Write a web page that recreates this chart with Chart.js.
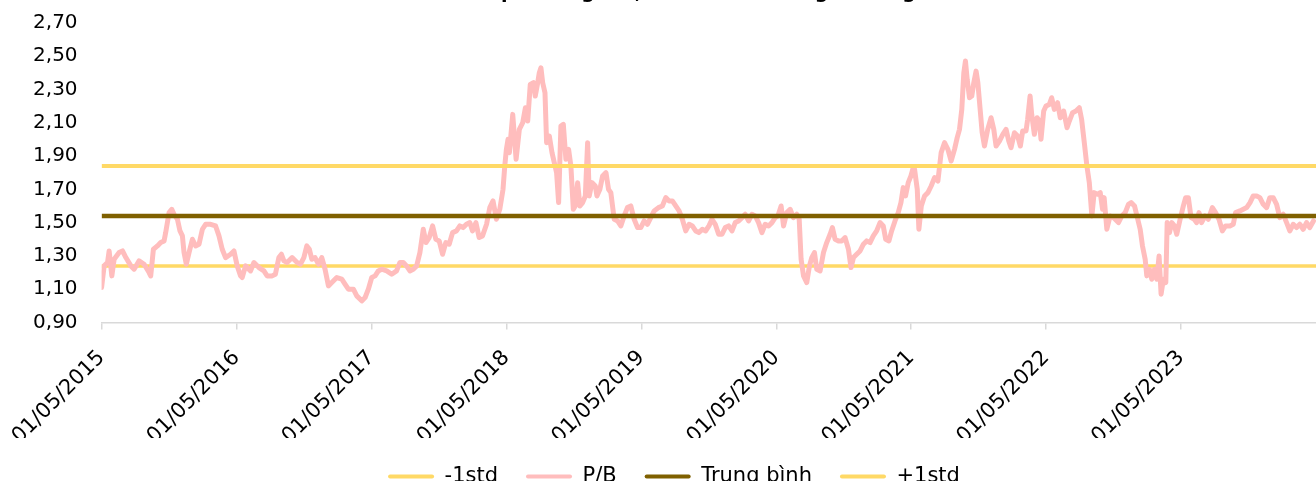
<!DOCTYPE html>
<html lang="vi">

<head>
    <meta charset="UTF-8">
    <title>P/B</title>
    <style>
        html, body { margin: 0; padding: 0; background: #fff; overflow: hidden; }
        /* khung cao hơn cửa sổ: tiêu đề và chú giải bị cắt như ảnh gốc */
        #khung { position: relative; top: -18px; width: 1316px; height: 515px; }
    </style>
</head>

<body>
    <div id="khung"><canvas id="bieuDo"></canvas></div>

    <script src="https://cdn.jsdelivr.net/npm/chart.js"></script>

    <script>
        // du lieu: thoi gian tinh bang nam ke tu 01/05/2015
        const thoiGian = [
            0.000, 0.019, 0.044, 0.056, 0.076, 0.093, 0.130, 0.155, 0.180, 0.217, 0.241, 0.278, 0.315, 0.352, 0.364, 0.384, 0.414, 0.438, 0.463, 0.475, 0.500, 0.520, 0.537, 0.562, 0.581, 0.599, 0.611, 0.628, 0.648, 0.673, 0.697, 0.722, 0.747, 0.771, 0.808, 0.845, 0.870, 0.894, 0.919, 0.956, 0.981, 1.005, 1.030, 1.042, 1.067, 1.104, 1.129, 1.166, 1.203, 1.227, 1.264, 1.288, 1.314, 1.333, 1.351, 1.375, 1.412, 1.449, 1.474, 1.499,
            1.521, 1.540, 1.558, 1.582, 1.607, 1.632, 1.656, 1.681, 1.706, 1.743, 1.780, 1.804, 1.829, 1.866, 1.891, 1.928, 1.953, 1.977, 2.002, 2.027, 2.051, 2.076, 2.113, 2.150, 2.186, 2.211, 2.236, 2.260, 2.285, 2.310, 2.335, 2.359, 2.384, 2.404, 2.428, 2.453, 2.477, 2.502, 2.527, 2.551, 2.576, 2.601, 2.630, 2.655, 2.680, 2.704, 2.729, 2.749, 2.774, 2.798, 2.823, 2.853, 2.877, 2.901, 2.926, 2.951, 2.975, 2.988, 3.000, 3.012,
            3.022, 3.047, 3.072, 3.096, 3.121, 3.141, 3.158, 3.177, 3.200, 3.214, 3.232, 3.244, 3.256, 3.269, 3.286, 3.298, 3.318, 3.338, 3.355, 3.372, 3.387, 3.404, 3.422, 3.441, 3.461, 3.478, 3.496, 3.510, 3.528, 3.545, 3.565, 3.585, 3.602, 3.614, 3.634, 3.659, 3.671, 3.693, 3.713, 3.738, 3.757, 3.774, 3.799, 3.824, 3.848, 3.873, 3.897, 3.922, 3.947, 3.972, 3.996, 4.021, 4.045, 4.070, 4.095, 4.127, 4.156, 4.181, 4.206, 4.230, 4.255, 4.280, 4.304, 4.329, 4.354, 4.378, 4.403, 4.427, 4.452, 4.477, 4.501,
            4.524, 4.548, 4.573, 4.598, 4.622, 4.647, 4.672, 4.696, 4.721, 4.746, 4.770, 4.795, 4.820, 4.844, 4.869, 4.894, 4.918, 4.943, 4.968, 4.992, 5.012, 5.036, 5.054, 5.078, 5.103, 5.127, 5.152, 5.170, 5.184, 5.202, 5.226, 5.246, 5.263, 5.283, 5.300, 5.325, 5.350, 5.374, 5.399, 5.416, 5.436, 5.461, 5.485, 5.510, 5.535, 5.554, 5.572, 5.596, 5.621, 5.646, 5.670, 5.695, 5.719, 5.744, 5.769, 5.793, 5.811, 5.835, 5.855, 5.880, 5.904, 5.924, 5.941, 5.958, 5.978, 5.998, 6.015,
            6.025, 6.045, 6.057, 6.075, 6.099, 6.124, 6.148, 6.173, 6.198, 6.222, 6.247, 6.272, 6.296, 6.321, 6.341, 6.358, 6.375, 6.390, 6.402, 6.415, 6.432, 6.449, 6.464, 6.481, 6.494, 6.511, 6.526, 6.543, 6.567, 6.592, 6.612, 6.629, 6.654, 6.679, 6.703, 6.723, 6.740, 6.765, 6.789, 6.809, 6.826, 6.851, 6.863, 6.881, 6.893, 6.913, 6.933, 6.950, 6.962, 6.982, 6.999, 7.024, 7.041, 7.061, 7.085, 7.105, 7.130, 7.155, 7.172, 7.196, 7.221, 7.246, 7.263, 7.283, 7.302, 7.320, 7.339, 7.356, 7.381, 7.401, 7.418, 7.430, 7.450, 7.474, 7.499,
            7.512, 7.536, 7.561, 7.586, 7.610, 7.630, 7.655, 7.679, 7.697, 7.714, 7.734, 7.746, 7.766, 7.783, 7.803, 7.820, 7.837, 7.852, 7.869, 7.887, 7.897, 7.914, 7.931, 7.951, 7.968, 7.993, 8.017, 8.034, 8.054, 8.074, 8.098, 8.115, 8.133, 8.152, 8.178, 8.202, 8.232, 8.256, 8.281, 8.306, 8.330, 8.362, 8.387, 8.404, 8.436, 8.461, 8.486, 8.511, 8.535, 8.560, 8.584, 8.609, 8.634, 8.658, 8.683, 8.708, 8.732, 8.757, 8.782, 8.806, 8.831, 8.856, 8.880, 8.905, 8.930, 8.954, 8.981
        ]
        const pb = [
            1.11, 1.24, 1.26, 1.33, 1.18, 1.28, 1.32, 1.33, 1.29, 1.24, 1.22, 1.27, 1.25, 1.20, 1.18, 1.34, 1.36, 1.38, 1.39, 1.44, 1.56, 1.58, 1.55, 1.52, 1.45, 1.42, 1.32, 1.25, 1.32, 1.40, 1.36, 1.37, 1.46, 1.49, 1.49, 1.48, 1.42, 1.34, 1.29, 1.31, 1.33, 1.24, 1.18, 1.17, 1.24, 1.21, 1.26, 1.23, 1.21, 1.18, 1.18, 1.19, 1.29, 1.31, 1.27, 1.26, 1.29, 1.26, 1.25, 1.29,
            1.36, 1.34, 1.28, 1.29, 1.25, 1.29, 1.22, 1.12, 1.14, 1.17, 1.16, 1.13, 1.10, 1.10, 1.06, 1.03, 1.05, 1.10, 1.17, 1.18, 1.21, 1.22, 1.21, 1.19, 1.21, 1.26, 1.26, 1.24, 1.21, 1.22, 1.24, 1.32, 1.46, 1.38, 1.41, 1.48, 1.40, 1.39, 1.31, 1.38, 1.37, 1.44, 1.45, 1.48, 1.47, 1.49, 1.50, 1.45, 1.50, 1.41, 1.42, 1.49, 1.59, 1.63, 1.52, 1.58, 1.70, 1.84, 1.94, 2.00,
            1.92, 2.15, 1.88, 2.06, 2.10, 2.19, 2.11, 2.33, 2.34, 2.26, 2.34, 2.40, 2.43, 2.34, 2.28, 1.98, 2.02, 1.92, 1.86, 1.80, 1.62, 2.08, 2.09, 1.88, 1.94, 1.84, 1.58, 1.60, 1.74, 1.60, 1.62, 1.66, 1.98, 1.66, 1.74, 1.72, 1.66, 1.70, 1.78, 1.80, 1.70, 1.68, 1.52, 1.51, 1.48, 1.54, 1.59, 1.60, 1.52, 1.47, 1.47, 1.51, 1.49, 1.53, 1.57, 1.59, 1.60, 1.65, 1.63, 1.63, 1.60, 1.57, 1.52, 1.45, 1.49, 1.48, 1.45, 1.44, 1.46, 1.45, 1.48,
            1.52, 1.49, 1.43, 1.43, 1.47, 1.48, 1.45, 1.50, 1.51, 1.53, 1.55, 1.51, 1.55, 1.54, 1.50, 1.44, 1.49, 1.48, 1.50, 1.53, 1.54, 1.60, 1.48, 1.56, 1.58, 1.53, 1.55, 1.52, 1.28, 1.18, 1.14, 1.24, 1.29, 1.32, 1.22, 1.21, 1.32, 1.38, 1.43, 1.47, 1.40, 1.39, 1.39, 1.41, 1.34, 1.23, 1.29, 1.31, 1.33, 1.37, 1.39, 1.38, 1.42, 1.45, 1.50, 1.48, 1.40, 1.39, 1.45, 1.51, 1.56, 1.62, 1.71, 1.66, 1.74, 1.78, 1.83,
            1.82, 1.70, 1.46, 1.60, 1.66, 1.68, 1.72, 1.77, 1.75, 1.92, 1.98, 1.94, 1.87, 1.94, 2.01, 2.06, 2.18, 2.40, 2.47, 2.36, 2.25, 2.26, 2.34, 2.41, 2.34, 2.18, 2.04, 1.96, 2.06, 2.13, 2.06, 1.96, 1.99, 2.03, 2.06, 1.99, 1.95, 2.04, 2.02, 1.96, 2.05, 2.05, 2.12, 2.26, 2.15, 2.03, 2.13, 2.11, 2.00, 2.17, 2.20, 2.21, 2.25, 2.18, 2.22, 2.13, 2.17, 2.07, 2.11, 2.16, 2.17, 2.19, 2.12, 1.98, 1.84, 1.74, 1.54, 1.68, 1.67, 1.68, 1.58, 1.65, 1.46, 1.54, 1.53,
            1.52, 1.50, 1.54, 1.56, 1.61, 1.62, 1.60, 1.52, 1.46, 1.36, 1.28, 1.18, 1.22, 1.16, 1.22, 1.16, 1.30, 1.07, 1.16, 1.14, 1.50, 1.44, 1.50, 1.48, 1.43, 1.52, 1.60, 1.65, 1.65, 1.53, 1.52, 1.50, 1.56, 1.50, 1.54, 1.52, 1.59, 1.56, 1.52, 1.45, 1.48, 1.48, 1.49, 1.56, 1.57, 1.58, 1.59, 1.62, 1.66, 1.66, 1.65, 1.61, 1.59, 1.65, 1.65, 1.61, 1.53, 1.55, 1.50, 1.45, 1.49, 1.47, 1.49, 1.46, 1.50, 1.47, 1.51
        ]
        const trungBinh = 1.54
        const duoi1std = 1.24
        const tren1std = 1.84
        const nhanTrucX = ['01/05/2015', '01/05/2016', '01/05/2017', '01/05/2018', '01/05/2019',
            '01/05/2020', '01/05/2021', '01/05/2022', '01/05/2023']
        const mocTrucY = [0.9, 1.1, 1.3, 1.5, 1.7, 1.9, 2.1, 2.3, 2.5, 2.7]
        const tieuDe = 'Diễn biến P/B cổ phiếu ngành, so với mức trung bình ngành 9 năm'

        const diemPB = thoiGian.map((t, i) => ({ x: t, y: pb[i] }))
        const duongNgang = v => [{ x: 0, y: v }, { x: 9, y: v }]

        Chart.defaults.font.family = "'DejaVu Sans', sans-serif"
        Chart.defaults.color = '#000'

        const ctx = document.getElementById('bieuDo')
        new Chart(ctx, {
            type: 'line',
            data: {
                datasets: [
                    { label: '-1std', data: duongNgang(duoi1std), borderColor: '#FFD966', backgroundColor: '#FFD966', borderWidth: 3.5, order: 4 },
                    { label: 'P/B', data: diemPB, borderColor: '#FFBDBD', backgroundColor: '#FFBDBD', borderWidth: 5, borderJoinStyle: 'round', borderCapStyle: 'round', order: 3 },
                    { label: 'Trung bình', data: duongNgang(trungBinh), borderColor: '#7F6000', backgroundColor: '#7F6000', borderWidth: 4.5, order: 2 },
                    { label: '+1std', data: duongNgang(tren1std), borderColor: '#FFD966', backgroundColor: '#FFD966', borderWidth: 4, order: 1 }
                ]
            },
            options: {
                responsive: true,
                maintainAspectRatio: false,
                animation: false,
                devicePixelRatio: 1,
                // le trai de day chu giai sang phai mot chut
                layout: { padding: { left: 32, right: 0, top: 0, bottom: 0 } },
                elements: { point: { radius: 0 }, line: { tension: 0 } },
                plugins: {
                    title: {
                        display: true,
                        text: tieuDe,
                        font: { size: 19, weight: 'bold' },
                        color: '#000',
                        padding: { top: 0, bottom: 18 }
                    },
                    legend: {
                        position: 'bottom',
                        labels: {
                            boxWidth: 46,
                            boxHeight: 4,
                            padding: 28,
                            font: { size: 21 },
                            color: '#000',
                            sort: (a, b) => a.datasetIndex - b.datasetIndex,
                            generateLabels: chart => Chart.defaults.plugins.legend.labels.generateLabels(chart)
                                .map(m => ({ ...m, lineWidth: 0, borderRadius: 2 }))
                        }
                    },
                    tooltip: { enabled: false }
                },
                scales: {
                    x: {
                        type: 'linear',
                        min: 0,
                        max: 9,
                        afterBuildTicks: s => { s.ticks = nhanTrucX.map((n, i) => ({ value: i })) },
                        afterFit: s => { s.height = 115.5 },
                        ticks: {
                            autoSkip: false,
                            minRotation: 45,
                            maxRotation: 45,
                            padding: 16,
                            font: { size: 21 },
                            color: '#000',
                            callback: v => nhanTrucX[v] ?? ''
                        },
                        grid: { drawOnChartArea: false, drawTicks: true, tickLength: 7, color: '#D9D9D9', lineWidth: 1.5 },
                        border: { color: '#D9D9D9', width: 1.5 }
                    },
                    y: {
                        min: 0.9,
                        max: 2.7,
                        afterBuildTicks: s => { s.ticks = mocTrucY.map(v => ({ value: v })) },
                        afterFit: s => { s.width = 68.4 },
                        ticks: {
                            padding: 24,
                            font: { size: 20 },
                            color: '#000',
                            callback: v => v.toFixed(2).replace('.', ',')
                        },
                        grid: { display: false, drawTicks: false },
                        border: { display: false }
                    }
                }
            }
        })
    </script>

</body>

</html>
